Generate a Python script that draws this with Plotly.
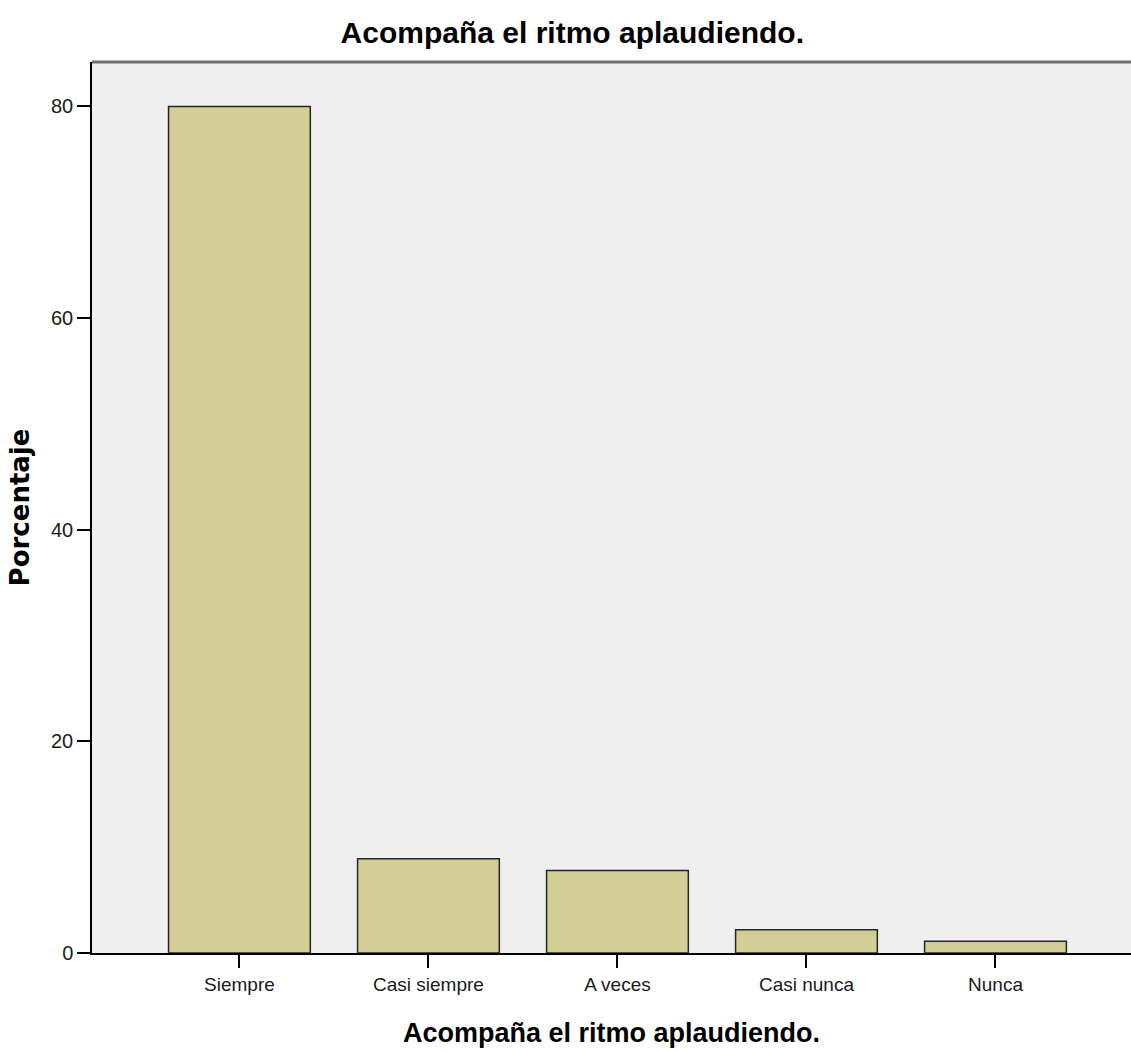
import plotly.graph_objects as go

categories = ["Siempre", "Casi siempre", "A veces", "Casi nunca", "Nunca"]
percentages = [80.0, 8.9, 7.8, 2.2, 1.1]
y_ticks = [0, 20, 40, 60, 80]
title_text = "Acompaña el ritmo aplaudiendo."
y_title = "Porcentaje"

FONT = "Liberation Sans, Arial, sans-serif"

fig = go.Figure()
fig.add_trace(go.Bar(
    x=list(range(len(categories))),
    y=percentages,
    width=0.75,
    marker=dict(color="#d3ce97", line=dict(color="#262626", width=1.5)),
    hoverinfo="skip",
))

fig.update_layout(
    width=1131, height=1052,
    margin=dict(l=92, r=0, t=62, b=99),
    paper_bgcolor="white",
    plot_bgcolor="#efefef",
    showlegend=False,
    title=dict(text="<b>" + title_text + "</b>", x=0.506, xanchor="center",
               yref="container", y=1 - 32 / 1052, yanchor="middle",
               font=dict(family=FONT, size=30, color="black")),
    font=dict(family=FONT, color="#1a1a1a"),
)

fig.update_xaxes(
    tickmode="array", tickvals=list(range(len(categories))), ticktext=categories,
    range=[-0.78, 4.717],
    showgrid=False, zeroline=False,
    showline=True, linecolor="black", linewidth=1.5,
    ticks="outside", ticklen=13, tickwidth=1.5, tickcolor="black",
    tickfont=dict(size=19, color="#1a1a1a"),
    title=dict(text="<b>" + title_text + "</b>", standoff=30,
               font=dict(family=FONT, size=27, color="black")),
)
fig.update_yaxes(
    tickmode="array", tickvals=y_ticks,
    range=[0, 84.2],
    showgrid=False, zeroline=False,
    showline=True, linecolor="black", linewidth=1.5,
    ticks="outside", ticklen=13, tickwidth=1.5, tickcolor="black",
    tickfont=dict(size=20, color="#1a1a1a"),
    title=dict(text="<b>" + y_title + "</b>", standoff=14,
               font=dict(family="DejaVu Sans, Liberation Sans, Arial", size=26, color="black")),
)

fig.add_shape(type="line", xref="paper", yref="paper", x0=0, x1=1, y0=1, y1=1,
              line=dict(color="#6e6e6e", width=3))

fig.write_html("out.html", config={"displayModeBar": False},
               post_script="document.body.style.margin='0';document.body.style.overflow='hidden';")
